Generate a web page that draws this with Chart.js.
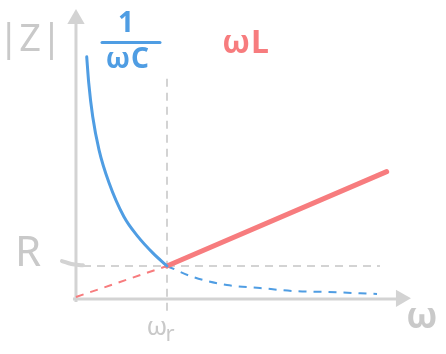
<!DOCTYPE html>
<html><head><meta charset="utf-8">
<script src="https://cdn.jsdelivr.net/npm/chart.js@4/dist/chart.umd.min.js"></script>
<style>html,body{margin:0;padding:0;background:#fff}#wrap{width:446px;height:354px;position:relative}</style>
</head><body><div id="wrap"><canvas id="c"></canvas></div>
<script>
// ---- data (ω in units of ω_r, |Z| in units of R) ----
const capOmega = [0.118, 0.140, 0.184, 0.253, 0.363, 0.527, 0.681, 0.846, 1.0];
const capZ     = [7.34, 6.55, 5.52, 4.52, 3.52, 2.49, 1.89, 1.39, 1.0];
const capTailOmega = [1.0, 1.286, 1.659, 2.022, 2.385, 2.758, 3.308];
const capTailZ     = [1.0, 0.667, 0.424, 0.333, 0.242, 0.212, 0.152];
const indOmega = [1.0, 3.414];
const indZ     = [1.0, 3.858];
const indLowOmega = [0.0, 1.0];
const indLowZ     = [0.06, 1.0];
const resOmega = [1.0, 1.0];
const resZ     = [-0.36, 6.70];
const rOmega = [0.077, 3.34];
const rZ     = [1.0, 1.0];
const rTickOmega = [-0.154, -0.05, 0.077];
const rTickZ     = [1.15, 1.06, 1.02];
const axisXOmega = [-0.033, 3.56];
const axisXZ     = [0, 0];
const axisYOmega = [0, 0];
const axisYZ     = [-0.09, 8.4];
const arrowOmega = [3.571, 0];
const arrowZ     = [0.02, 8.485];
const fracOmega = [0.286, 0.923];
const fracZ     = [7.77, 7.77];
// tick / curve labels
const labelTexts = ['|Z|', '1', 'ωC', 'ωL', 'R', 'ω', 'r', 'ω'];

const pts = (xs, ys) => xs.map((x, i) => ({x, y: ys[i]}));

const BLUE = '#4f9de3', RED = '#f77c7e', GRAY = '#d3d3d3', TXT = '#c9c9c9';

// label layout (position in data units, style)
const labelLayout = [
  {x: -0.505, y: 7.85, font: '400 38px "Noto Sans"', color: TXT},
  {x: 0.549, y: 8.33, font: '700 28px "Noto Sans"', color: BLUE},
  {x: 0.571, y: 7.24, font: '700 28px "Noto Sans"', color: BLUE, ls: '1px'},
  {x: 1.868, y: 7.73, font: '700 32px "Noto Sans"', color: RED, ls: '1px'},
  {x: -0.527, y: 1.36, font: '400 42px "Noto Sans"', color: TXT},
  {x: 0.89, y: -0.88, font: '400 26px "Noto Sans"', color: TXT},
  {x: 1.033, y: -1.09, font: '400 22px "Noto Sans"', color: TXT},
  {x: 3.80, y: -0.58, font: '700 36px "Noto Sans"', color: TXT}
];

const textPlugin = {
  id: 'sketchText',
  afterDatasetsDraw(chart) {
    const {ctx, scales: {x, y}} = chart;
    ctx.save();
    ctx.textAlign = 'center';
    ctx.textBaseline = 'middle';
    labelTexts.forEach((t, i) => {
      const L = labelLayout[i];
      ctx.font = L.font;
      ctx.fillStyle = L.color;
      ctx.letterSpacing = L.ls || '0px';
      ctx.fillText(t, x.getPixelForValue(L.x), y.getPixelForValue(L.y));
    });
    ctx.restore();
  }
};

const lineDs = (data, color, width, dash, order, extra) => Object.assign({
  data, showLine: true, borderColor: color, backgroundColor: color,
  borderWidth: width, borderDash: dash || [], pointRadius: 0, pointHoverRadius: 0,
  fill: false, order, borderCapStyle: 'round'
}, extra || {});

new Chart(document.getElementById('c'), {
  type: 'scatter',
  data: {
    datasets: [
      lineDs(pts(axisXOmega, axisXZ), GRAY, 3, null, 10, {borderCapStyle: 'butt'}),
      lineDs(pts(axisYOmega, axisYZ), GRAY, 3, null, 10, {borderCapStyle: 'butt'}),
      {data: pts(arrowOmega, arrowZ), showLine: false, pointStyle: 'triangle', pointRadius: 10,
       rotation: [90, 0], backgroundColor: GRAY, borderColor: GRAY, borderWidth: 0, order: 10},
      lineDs(pts(rTickOmega, rTickZ), GRAY, 4, null, 9, {tension: 0.4}),
      lineDs(pts(resOmega, resZ), GRAY, 2, [8, 6], 8, {borderCapStyle: 'butt'}),
      lineDs(pts(rOmega, rZ), GRAY, 2, [8, 6], 8, {borderCapStyle: 'butt'}),
      lineDs(pts(indLowOmega, indLowZ), RED, 2, [8, 7], 5, {borderCapStyle: 'butt'}),
      lineDs(pts(capTailOmega, capTailZ), BLUE, 2, [8, 7], 5, {borderCapStyle: 'butt', cubicInterpolationMode: 'monotone'}),
      lineDs(pts(indOmega, indZ), RED, 5, null, 3),
      lineDs(pts(capOmega, capZ), BLUE, 3, null, 2, {cubicInterpolationMode: 'monotone'}),
      lineDs(pts(fracOmega, fracZ), BLUE, 3, null, 2)
    ]
  },
  options: {
    responsive: true, maintainAspectRatio: false, animation: false,
    layout: {padding: 0, autoPadding: false},
    plugins: {legend: {display: false}, tooltip: {enabled: false}},
    events: [],
    scales: {
      x: {type: 'linear', min: -0.835, max: 4.066, display: false},
      y: {type: 'linear', min: -1.667, max: 9.06, display: false}
    }
  },
  plugins: [textPlugin]
});
</script></body></html>
